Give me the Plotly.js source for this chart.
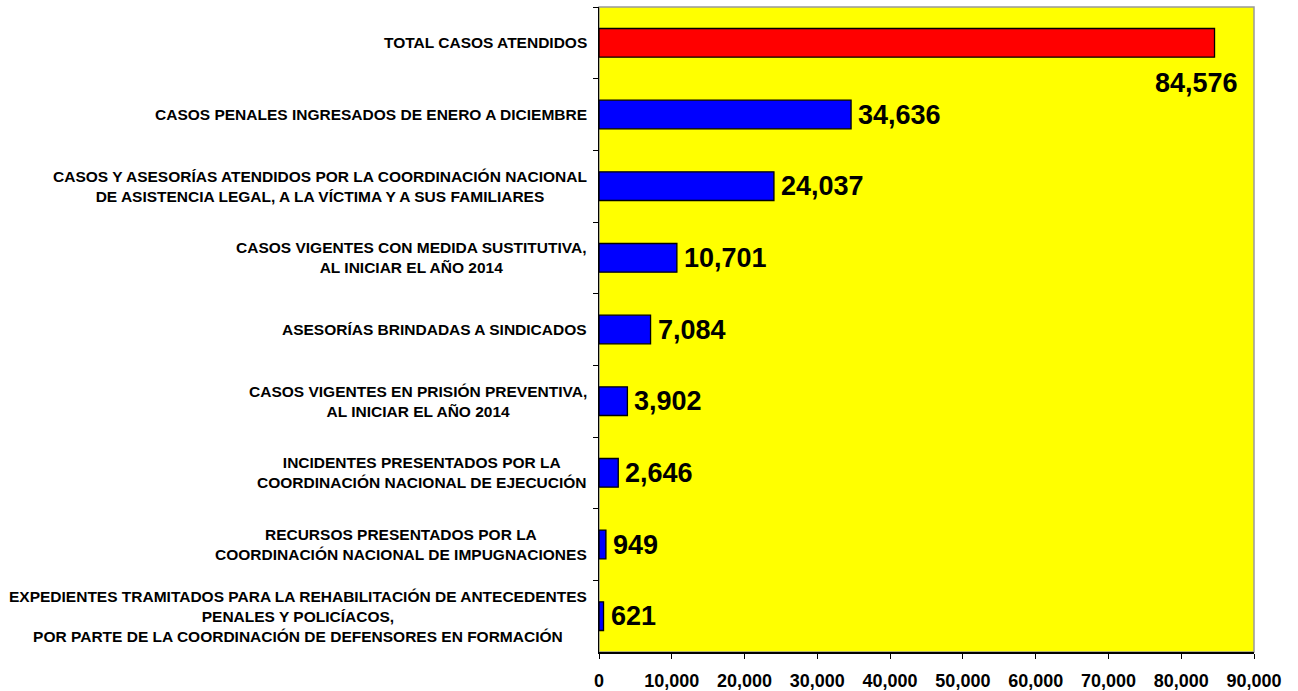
<!DOCTYPE html>
<html>
<head>
<meta charset="utf-8">
<script src="https://cdn.plot.ly/plotly-3.0.1.min.js"></script>
<style>
  html, body { margin: 0; padding: 0; background: #fff; }
  #chart { width: 1298px; height: 691px; }
</style>
</head>
<body>
<div id="chart"></div>
<script>
// categories, top to bottom
var categories = [
  'TOTAL CASOS ATENDIDOS',
  'CASOS PENALES INGRESADOS DE ENERO A DICIEMBRE',
  'CASOS Y ASESORÍAS ATENDIDOS POR LA COORDINACIÓN NACIONAL<br>DE ASISTENCIA LEGAL, A LA VÍCTIMA Y A SUS FAMILIARES',
  'CASOS VIGENTES CON MEDIDA SUSTITUTIVA,<br>AL INICIAR EL AÑO 2014',
  'ASESORÍAS BRINDADAS A SINDICADOS',
  'CASOS VIGENTES EN PRISIÓN PREVENTIVA,<br>AL INICIAR EL AÑO 2014',
  'INCIDENTES PRESENTADOS POR LA<br>COORDINACIÓN NACIONAL DE EJECUCIÓN',
  'RECURSOS PRESENTADOS POR LA<br>COORDINACIÓN NACIONAL DE IMPUGNACIONES',
  'EXPEDIENTES TRAMITADOS PARA LA REHABILITACIÓN DE ANTECEDENTES<br>PENALES Y POLICÍACOS,<br>POR PARTE DE LA COORDINACIÓN DE DEFENSORES EN FORMACIÓN'
];
var values = [84576, 34636, 24037, 10701, 7084, 3902, 2646, 949, 621];
var barColors = ['#ff0000', '#0000ff', '#0000ff', '#0000ff', '#0000ff', '#0000ff', '#0000ff', '#0000ff', '#0000ff'];
var xTicks = [0, 10000, 20000, 30000, 40000, 50000, 60000, 70000, 80000, 90000];

var font = 'Arial, "Liberation Sans", sans-serif';

var trace = {
  type: 'bar',
  orientation: 'h',
  x: values,
  y: categories,
  marker: { color: barColors, line: { color: '#000', width: 1.3 } },
  hoverinfo: 'x+y'
};

var annotations = [];
// category labels (centered multi-line text, left of the axis)
categories.forEach(function (c) {
  annotations.push({
    xref: 'paper', yref: 'y', x: 0, y: c,
    text: '<b>' + c + '</b>',
    showarrow: false, xanchor: 'right', yanchor: 'middle',
    align: 'center', xshift: -10,
    font: { family: font, size: 15.5, color: '#000' }
  });
});
// value labels
values.forEach(function (v, i) {
  var isTotal = i === 0;
  annotations.push({
    xref: 'x', yref: 'y', x: v, y: categories[i],
    text: '<b>' + v.toLocaleString('en-US') + '</b>',
    showarrow: false,
    xanchor: isTotal ? 'right' : 'left',
    yanchor: 'middle',
    xshift: isTotal ? 25 : 5,
    yshift: isTotal ? -40 : 0,
    font: { family: font, size: 27, color: '#000' }
  });
});

var layout = {
  width: 1298,
  height: 691,
  margin: { l: 599, r: 44, t: 7, b: 39 },
  paper_bgcolor: '#ffffff',
  plot_bgcolor: '#ffff00',
  showlegend: false,
  bargap: 0.6,
  font: { family: font, color: '#000' },
  xaxis: {
    range: [0, 90000],
    tickvals: xTicks,
    ticktext: xTicks.map(function (t) { return '<b>' + t.toLocaleString('en-US') + '</b>'; }),
    tickfont: { family: font, size: 18, color: '#000' },
    ticks: 'outside', ticklen: 5, tickcolor: '#000',
    ticklabelstandoff: 7,
    showgrid: false, zeroline: false,
    showline: true, linecolor: '#000', linewidth: 1.5
  },
  yaxis: {
    type: 'category',
    categoryorder: 'array',
    categoryarray: categories,
    range: [8.5, -0.5],
    autorange: false,
    showticklabels: false,
    ticks: 'outside', ticklen: 5, tickcolor: '#000',
    tickson: 'boundaries',
    showgrid: false, zeroline: false,
    showline: true, linecolor: '#000', linewidth: 1.5
  },
  shapes: [{
    type: 'rect', xref: 'paper', yref: 'paper',
    x0: 0, x1: 1, y0: 0, y1: 1,
    line: { color: '#999', width: 1.5 },
    layer: 'below'
  }],
  annotations: annotations
};

Plotly.newPlot('chart', [trace], layout, { displayModeBar: false, staticPlot: true });
</script>
</body>
</html>
